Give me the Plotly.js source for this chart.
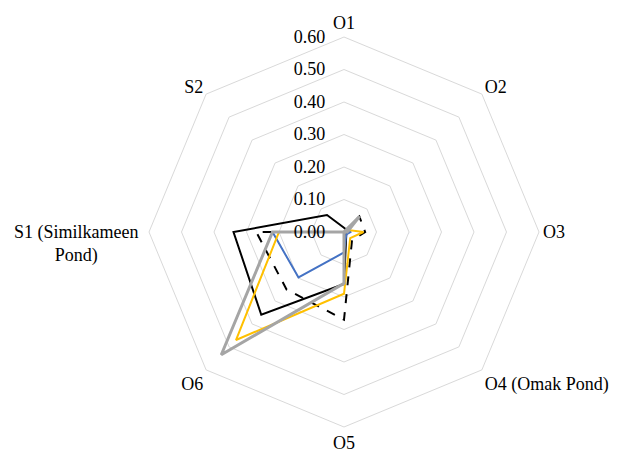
<!DOCTYPE html>
<html>
<head>
<meta charset="utf-8">
<script src="https://cdn.plot.ly/plotly-3.0.1.min.js"></script>
<style>html,body{margin:0;padding:0;background:#fff;}#chart{width:618px;height:453px;}</style>
</head>
<body>
<div id="chart"></div>
<script>
const categories = ['O1', 'O2', 'O3', 'O4 (Omak Pond)', 'O5', 'O6', 'S1 (Similkameen<br>Pond)', 'S2'];
const seriesBlackSolid = [0.013, 0.01, 0.01, 0.01, 0.16, 0.36, 0.34, 0.074];
const seriesBlackDash  = [0.0, 0.067, 0.065, 0.035, 0.27, 0.25, 0.27, 0.0];
const seriesBlue       = [0.0, 0.02, 0.02, 0.01, 0.063, 0.198, 0.22, 0.0];
const seriesYellow     = [0.0, 0.01, 0.06, 0.027, 0.19, 0.47, 0.20, 0.0];
const seriesGray       = [0.0, 0.068, 0.01, 0.0, 0.158, 0.534, 0.22, 0.0];
const radialTicks = [0, 0.1, 0.2, 0.3, 0.4, 0.5, 0.6];

function closed(arr) { return arr.concat([arr[0]]); }
const theta = closed(categories);

function tr(name, vals, color, width, dash) {
  return {
    type: 'scatterpolar', mode: 'lines', name: name,
    r: closed(vals), theta: theta,
    line: {color: color, width: width, dash: dash || 'solid'},
    hoverinfo: 'none'
  };
}

const data = [
  tr('Series 1', seriesBlackSolid, '#000000', 2),
  tr('Series 2', seriesBlackDash, '#000000', 2, 'dash'),
  tr('Series 3', seriesBlue, '#4472C4', 2),
  tr('Series 4', seriesYellow, '#FFC000', 2),
  tr('Series 5', seriesGray, '#A5A5A5', 3)
];

// S1 label is drawn as a centred annotation (two centred lines, like the original)
const S1_INDEX = 6;
const angularText = categories.map((c, i) => i === S1_INDEX ? '' : c);

const fontFam = '"Liberation Serif", "Times New Roman", serif';
const layout = {
  width: 618, height: 453,
  margin: {l: 149, r: 79, t: 37, b: 26},
  paper_bgcolor: '#ffffff',
  showlegend: false,
  font: {family: fontFam, size: 18, color: '#000000'},
  polar: {
    bgcolor: '#ffffff',
    gridshape: 'linear',
    domain: {x: [0, 1], y: [0, 1]},
    radialaxis: {
      range: [0, 0.6],
      tickvals: radialTicks,
      tickformat: '.2f',
      angle: 90,
      tickangle: 90,
      side: 'counterclockwise',
      showline: false,
      ticks: 'outside',
      ticklen: 12,
      tickcolor: 'rgba(0,0,0,0)',
      gridcolor: '#d9d9d9',
      gridwidth: 1,
      tickfont: {family: fontFam, size: 18, color: '#000000'}
    },
    angularaxis: {
      rotation: 90,
      direction: 'clockwise',
      tickmode: 'array',
      tickvals: categories,
      ticktext: angularText,
      showgrid: false,
      showline: true,
      linecolor: '#d9d9d9',
      linewidth: 1,
      ticks: '',
      tickfont: {family: fontFam, size: 18, color: '#000000'}
    }
  },
  annotations: [{
    text: categories[S1_INDEX],
    xref: 'paper', yref: 'paper',
    x: -0.187, y: 0.47,
    xanchor: 'center', yanchor: 'middle',
    align: 'center', showarrow: false,
    font: {family: fontFam, size: 18, color: '#000000'}
  }]
};

Plotly.newPlot('chart', data, layout, {displayModeBar: false, staticPlot: true});
</script>
</body>
</html>
